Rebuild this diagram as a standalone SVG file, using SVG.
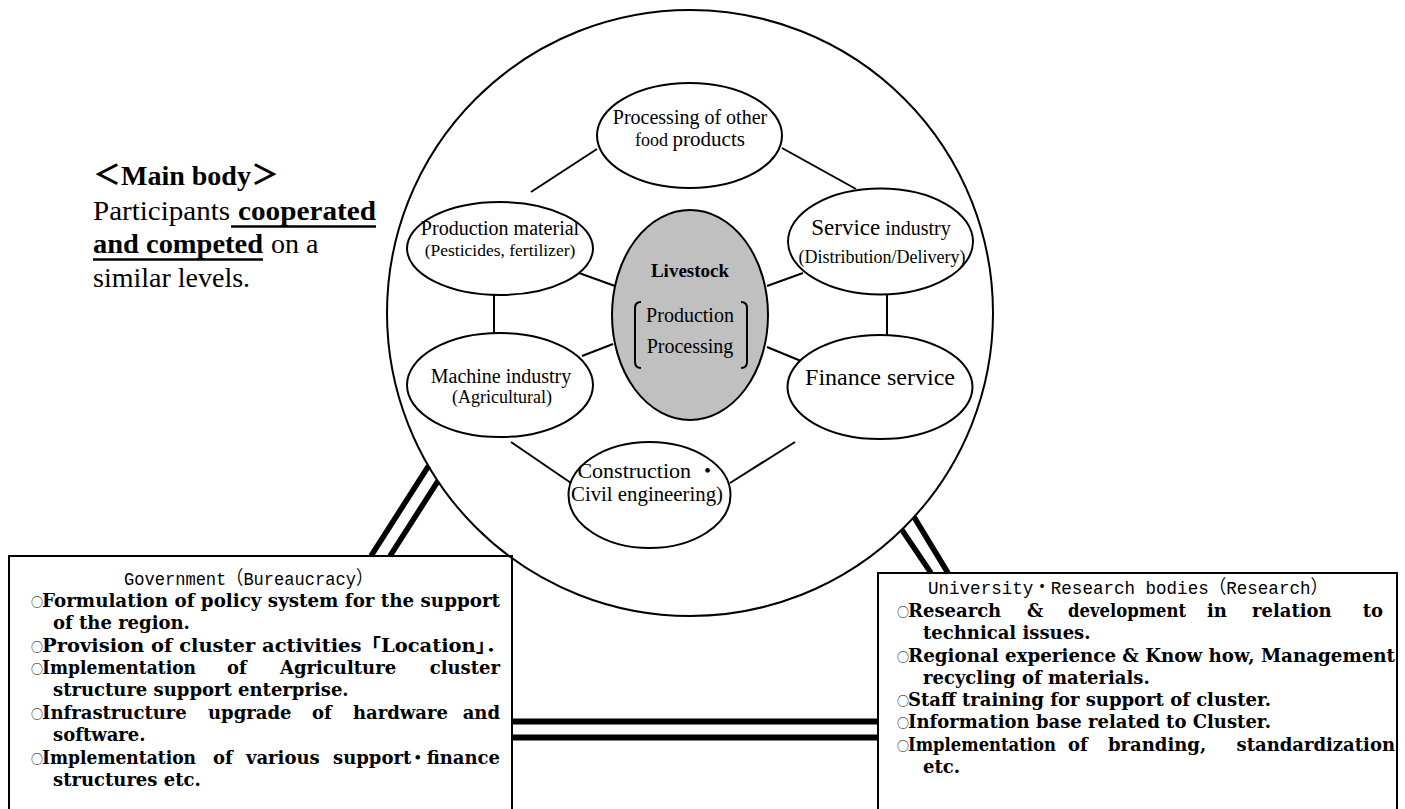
<svg xmlns="http://www.w3.org/2000/svg" width="1405" height="809" viewBox="0 0 1405 809">
<style>
.ln{stroke:#000;stroke-width:2;fill:none}
.el{stroke:#000;stroke-width:2;fill:#fff}
.dbl{stroke:#000;stroke-width:5.5;fill:none}
.ser{font-family:"Liberation Serif","Times New Roman","Noto Sans CJK JP",serif;fill:#000}
.mono{font-family:"Liberation Mono","Noto Sans CJK JP",monospace;font-size:19px;fill:#000}
.blt{font-family:"DejaVu Serif","Liberation Serif","Noto Sans CJK JP",serif;font-weight:bold;font-size:18px;fill:#000}
.o{font-family:"Noto Sans CJK JP",sans-serif;font-weight:normal;font-size:12px}
.mid{text-anchor:middle}
.end{text-anchor:end}
</style>
<rect width="1405" height="809" fill="#fff"/>

<g id="main-body" class="ser">
  <text x="93" y="185" font-size="28" font-weight="bold">＜Main body＞</text>
  <text y="220" font-size="28"><tspan x="93" textLength="137" lengthAdjust="spacingAndGlyphs">Participants</tspan><tspan x="238" font-weight="bold" textLength="138" lengthAdjust="spacingAndGlyphs">cooperated</tspan></text>
  <text y="253" font-size="28"><tspan x="93" font-weight="bold" textLength="170" lengthAdjust="spacingAndGlyphs">and competed</tspan><tspan x="271">on a</tspan></text>
  <text x="93" y="287" font-size="28">similar levels.</text>
  <line x1="231" y1="226.5" x2="376" y2="226.5" stroke="#000" stroke-width="2.5"/>
  <line x1="93" y1="259.5" x2="263" y2="259.5" stroke="#000" stroke-width="2.5"/>
</g>

<g id="cluster">
  <circle cx="690" cy="313" r="303" class="ln"/>
</g>

<g id="connectors">
  <line class="ln" x1="597" y1="149" x2="531" y2="192"/>
  <line class="ln" x1="782" y1="148" x2="856" y2="189"/>
  <line class="ln" x1="579" y1="273" x2="615" y2="286"/>
  <line class="ln" x1="494" y1="295" x2="494" y2="334"/>
  <line class="ln" x1="582" y1="356" x2="613" y2="344"/>
  <line class="ln" x1="767" y1="286" x2="803" y2="273"/>
  <line class="ln" x1="887" y1="294" x2="887" y2="335"/>
  <line class="ln" x1="767" y1="347" x2="801" y2="361"/>
  <line class="ln" x1="511" y1="442" x2="571" y2="483"/>
  <line class="ln" x1="730" y1="483" x2="795" y2="442"/>
  <line class="dbl" x1="428.5" y1="466" x2="371" y2="556"/>
  <line class="dbl" x1="438" y1="481" x2="390" y2="556"/>
  <line class="dbl" x1="902" y1="530" x2="931" y2="573"/>
  <line class="dbl" x1="914" y1="517" x2="948" y2="573"/>
  <line x1="512" y1="721.5" x2="878" y2="721.5" stroke="#000" stroke-width="6"/>
  <line x1="512" y1="737.5" x2="878" y2="737.5" stroke="#000" stroke-width="6"/>
</g>

<g id="n-other-food" class="ser mid">
  <ellipse class="el" cx="689.5" cy="135.5" rx="92.5" ry="52.5"/>
  <text x="690" y="124" font-size="20">Processing of other</text>
  <text x="690" y="146"><tspan font-size="18">food </tspan><tspan font-size="21">products</tspan></text>
</g>

<g id="n-production-material" class="ser mid">
  <ellipse class="el" cx="500" cy="248.5" rx="93" ry="46.5"/>
  <text x="500" y="235" font-size="20">Production material</text>
  <text x="500" y="256" font-size="17.5">(Pesticides, fertilizer)</text>
</g>

<g id="n-machine" class="ser mid">
  <ellipse class="el" cx="500" cy="385" rx="93" ry="52"/>
  <text x="501" y="383" font-size="20">Machine industry</text>
  <text x="502" y="403" font-size="18">(Agricultural)</text>
</g>

<g id="n-livestock" class="ser mid">
  <ellipse cx="690" cy="315" rx="78" ry="105" stroke="#000" stroke-width="2" fill="#c0c0c0"/>
  <text x="690" y="277" font-size="19" font-weight="bold">Livestock</text>
  <text x="690" y="322" font-size="20">Production</text>
  <text x="690" y="353" font-size="20">Processing</text>
  <path class="ln" d="M641 302 Q635 302 635 308 L635 362 Q635 368 641 368"/>
  <path class="ln" d="M741 302 Q747 302 747 308 L747 362 Q747 368 741 368"/>
</g>

<g id="n-service" class="ser mid">
  <ellipse class="el" cx="880.5" cy="241.5" rx="92.5" ry="53"/>
  <text x="881" y="235"><tspan font-size="23">Service</tspan><tspan font-size="20"> industry</tspan></text>
  <text x="882" y="263" font-size="18">(Distribution/Delivery)</text>
</g>

<g id="n-finance" class="ser mid">
  <ellipse class="el" cx="880" cy="387" rx="92.5" ry="52"/>
  <text x="880" y="385" font-size="24">Finance service</text>
</g>

<g id="n-construction" class="ser mid">
  <ellipse class="el" cx="649.5" cy="495" rx="81" ry="53"/>
  <text x="648" y="478" font-size="22">Construction ・</text>
  <text x="647" y="501" font-size="22" textLength="152" lengthAdjust="spacingAndGlyphs">Civil engineering)</text>
</g>

<g id="government">
  <rect x="9" y="556" width="503" height="270" class="ln"/>
  <text class="mono" x="124" y="585" textLength="249" lengthAdjust="spacingAndGlyphs">Government（Bureaucracy）</text>
  <text class="blt" y="607"><tspan class="o" x="31">○</tspan><tspan x="42" textLength="458" lengthAdjust="spacingAndGlyphs">Formulation of policy system for the support</tspan></text>
  <text class="blt" x="53" y="629">of the region.</text>
  <text class="blt" y="652"><tspan class="o" x="31">○</tspan><tspan x="42" textLength="463" lengthAdjust="spacingAndGlyphs">Provision of cluster activities「Location」．</tspan></text>
  <text class="blt" y="674"><tspan class="o" x="31">○</tspan><tspan x="42" textLength="154" lengthAdjust="spacingAndGlyphs">Implementation</tspan><tspan x="227">of</tspan><tspan x="280">Agriculture</tspan><tspan x="500" class="end">cluster</tspan></text>
  <text class="blt" x="53" y="696">structure support enterprise.</text>
  <text class="blt" y="719"><tspan class="o" x="31">○</tspan><tspan x="42">Infrastructure</tspan><tspan x="208">upgrade</tspan><tspan x="312">of</tspan><tspan x="353">hardware</tspan><tspan x="500" class="end">and</tspan></text>
  <text class="blt" x="53" y="741">software.</text>
  <text class="blt" y="764"><tspan class="o" x="31">○</tspan><tspan x="42" textLength="154" lengthAdjust="spacingAndGlyphs">Implementation</tspan><tspan x="213">of</tspan><tspan x="246">various</tspan><tspan x="333">support</tspan><tspan x="500" class="end">・finance</tspan></text>
  <text class="blt" x="53" y="786">structures etc.</text>
</g>

<g id="university">
  <rect x="878" y="573" width="519" height="260" class="ln"/>
  <text class="mono" x="928" y="594" textLength="400" lengthAdjust="spacingAndGlyphs">University・Research bodies（Research）</text>
  <text class="blt" y="617"><tspan class="o" x="897">○</tspan><tspan x="908">Research</tspan><tspan x="1027">&amp;</tspan><tspan x="1068" textLength="118" lengthAdjust="spacingAndGlyphs">development</tspan><tspan x="1207">in</tspan><tspan x="1252">relation</tspan><tspan x="1383" class="end">to</tspan></text>
  <text class="blt" x="923" y="639">technical issues.</text>
  <text class="blt" y="662"><tspan class="o" x="897">○</tspan><tspan x="908" textLength="487" lengthAdjust="spacingAndGlyphs">Regional experience &amp; Know how, Management</tspan></text>
  <text class="blt" x="923" y="684">recycling of materials.</text>
  <text class="blt" y="706"><tspan class="o" x="897">○</tspan><tspan x="908">Staff training for support of cluster.</tspan></text>
  <text class="blt" y="728"><tspan class="o" x="897">○</tspan><tspan x="908">Information base related to Cluster.</tspan></text>
  <text class="blt" y="751"><tspan class="o" x="897">○</tspan><tspan x="908" textLength="148" lengthAdjust="spacingAndGlyphs">Implementation</tspan><tspan x="1068">of</tspan><tspan x="1108">branding,</tspan><tspan x="1395" class="end">standardization</tspan></text>
  <text class="blt" x="923" y="773">etc.</text>
</g>
</svg>
